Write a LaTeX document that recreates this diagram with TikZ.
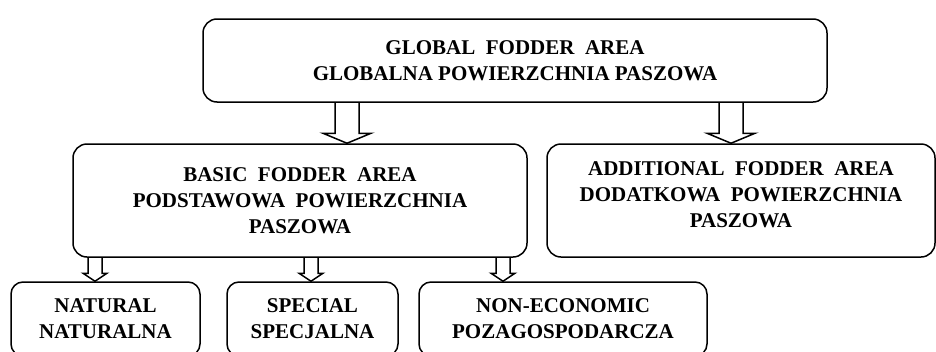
\documentclass[tikz,border=0pt]{standalone}
\usepackage{fontspec}
\setmainfont{Liberation Serif}
\usetikzlibrary{calc,positioning}
% hollow block arrow: column, from node, to node, half shaft, half head, head length
\newcommand\blockarrow[6]{%
  \draw[blk] ($(#1 |- #2.south)+(-#4,0)$) -- ($(#1 |- #3.north)+(-#4,-#6)$)
    -- ($(#1 |- #3.north)+(-#5,-#6)$) -- (#1 |- #3.north)
    -- ($(#1 |- #3.north)+(#5,-#6)$) -- ($(#1 |- #3.north)+(#4,-#6)$)
    -- ($(#1 |- #2.south)+(#4,0)$);}

\begin{document}
\begin{tikzpicture}[x=1pt,y=-1pt,
    box/.style={draw,line width=1.5pt,rounded corners=14pt,align=center,inner sep=0pt,
      font=\bfseries\fontsize{21}{26}\selectfont},
    leaf/.style={box,rounded corners=12pt,minimum height=74pt},
    blk/.style={line width=1.5pt,line join=miter}]
    \useasboundingbox (0,0) rectangle (936,351);

    \node[box,minimum width=624pt,minimum height=83pt] (global) at (515,60.5)
        {GLOBAL\ \ FODDER\ \ AREA\\GLOBALNA POWIERZCHNIA PASZOWA};
    \node[box,minimum width=454pt,minimum height=113pt] (basic) at (300,200.5)
        {BASIC\ \ FODDER\ \ AREA\\PODSTAWOWA\ \ POWIERZCHNIA\\PASZOWA};
    \node[box,minimum width=388pt,minimum height=113pt,text depth=12pt] (extra) at (741,200.5)
        {ADDITIONAL\ \ FODDER\ \ AREA\\DODATKOWA\ \ POWIERZCHNIA\\PASZOWA};

    \node[leaf,minimum width=189pt] (natural) at (105.5,319) {NATURAL\\NATURALNA};
    \node[leaf,minimum width=171pt] (special) at (312.5,319) {SPECIAL\\SPECJALNA};
    \node[leaf,minimum width=288pt] (noneco) at (563,319) {NON-ECONOMIC\\POZAGOSPODARCZA};

    % arrow columns
    \coordinate (c1) at (347,0);
    \coordinate (c2) at (731,0);
    \coordinate (c3) at (95,0);
    \coordinate (c4) at (311,0);
    \coordinate (c5) at (503,0);

    \blockarrow{c1}{global}{basic}{12}{24}{10}
    \blockarrow{c2}{global}{extra}{12}{24}{10}
    \blockarrow{c3}{basic}{natural}{7}{12}{8}
    \blockarrow{c4}{basic}{special}{7}{12}{8}
    \blockarrow{c5}{basic}{noneco}{7}{12}{8}
\end{tikzpicture}
\end{document}
